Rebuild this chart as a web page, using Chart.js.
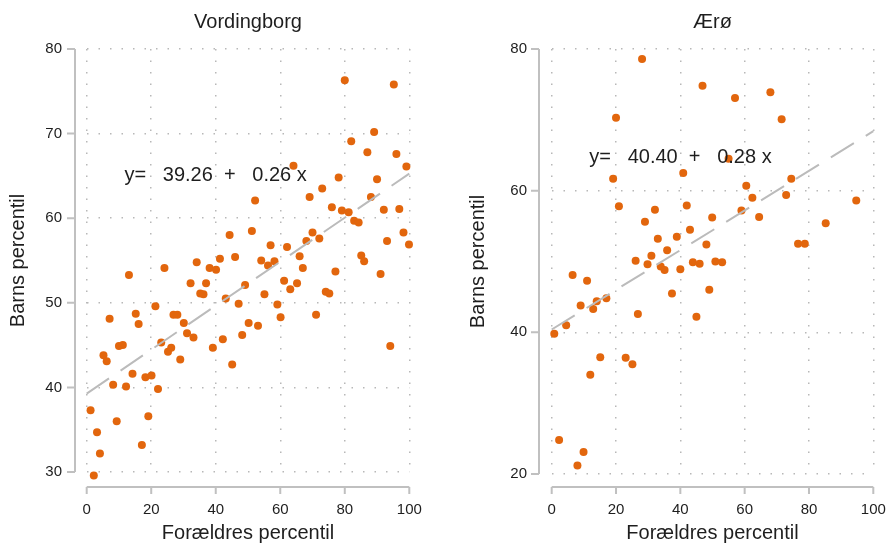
<!DOCTYPE html>
<html>
<head>
<meta charset="utf-8">
<script src="https://cdn.jsdelivr.net/npm/chart.js@4.4.1/dist/chart.umd.min.js"></script>
<style>
    body { margin: 0; background: #fff; }
    #painel { position: relative; width: 889px; height: 545px; }
    canvas { position: absolute; top: 0; }
</style>
</head>
<body>
<div id="painel">
    <canvas id="grafico1" width="444" height="545" style="left:0"></canvas>
    <canvas id="grafico2" width="445" height="545" style="left:444px"></canvas>
</div>
<script>
// dados
const titulos = ["Vordingborg", "Ærø"];
const tituloX = "Forældres percentil";
const tituloY = "Barns percentil";

const vordingborgX = [1.2, 2.2, 3.2, 4.1, 5.2, 6.2, 7.1, 8.2, 9.3, 10.0,
    11.2, 12.2, 13.1, 14.2, 15.2, 16.1, 17.1, 18.2, 19.1, 20.1,
    21.3, 22.1, 23.1, 24.1, 25.2, 26.2, 26.9, 28.1, 29.0, 30.1,
    31.1, 32.2, 33.1, 34.1, 35.2, 36.2, 37.0, 38.1, 39.1, 40.1,
    41.3, 42.2, 43.1, 44.3, 45.1, 46.0, 47.1, 48.2, 49.1, 50.2,
    51.2, 52.2, 53.1, 54.1, 55.1, 56.2, 57.0, 58.2, 59.1, 60.1,
    61.2, 62.1, 63.1, 64.1, 65.2, 66.0, 67.0, 68.1, 69.1, 70.0,
    71.1, 72.1, 73.0, 74.1, 75.2, 76.0, 77.1, 78.1, 79.1, 80.0,
    81.2, 82.0, 82.9, 84.3, 85.1, 86.0, 87.0, 88.1, 89.1, 90.0,
    91.1, 92.1, 93.1, 94.1, 95.2, 96.0, 96.9, 98.2, 99.1, 99.9];
const vordingborgY = [37.3, 29.6, 34.7, 32.2, 43.8, 43.1, 48.1, 40.3, 36.0, 44.9,
    45.0, 40.1, 53.3, 41.6, 48.7, 47.5, 33.2, 41.2, 36.6, 41.4,
    49.6, 39.8, 45.3, 54.1, 44.2, 44.7, 48.6, 48.6, 43.3, 47.6,
    46.4, 52.3, 45.9, 54.8, 51.1, 51.0, 52.3, 54.1, 44.7, 53.9,
    55.2, 45.7, 50.5, 58.0, 42.7, 55.4, 49.9, 46.2, 52.1, 47.6,
    58.5, 62.1, 47.3, 55.0, 51.0, 54.4, 56.8, 54.9, 49.8, 48.3,
    52.6, 56.6, 51.6, 66.2, 52.3, 55.5, 54.1, 57.3, 62.5, 58.3,
    48.6, 57.6, 63.5, 51.3, 51.1, 61.3, 53.7, 64.8, 60.9, 76.3,
    60.7, 69.1, 59.7, 59.5, 55.6, 54.9, 67.8, 62.5, 70.2, 64.6,
    53.4, 61.0, 57.3, 44.9, 75.8, 67.6, 61.1, 58.3, 66.1, 56.9];

const aeroX = [0.8, 2.3, 4.5, 6.5, 8.0, 9.0, 9.9, 11.0, 12.0, 12.9,
    14.0, 15.1, 17.0, 19.1, 20.0, 20.9, 23.0, 25.1, 26.1, 26.8,
    28.1, 29.0, 29.8, 31.0, 32.1, 33.0, 33.9, 35.1, 35.9, 37.4,
    38.9, 40.0, 40.9, 42.0, 43.0, 43.9, 45.0, 46.0, 46.9, 48.1,
    49.0, 49.9, 50.9, 53.0, 55.0, 57.0, 59.0, 60.5, 62.4, 64.5,
    68.0, 71.5, 72.9, 74.5, 76.6, 78.7, 85.2, 94.7];
const aeroY = [39.8, 24.8, 41.0, 48.1, 21.2, 43.8, 23.1, 47.3, 34.0, 43.3,
    44.4, 36.5, 44.8, 61.7, 70.3, 57.8, 36.4, 35.5, 50.1, 42.6,
    78.6, 55.6, 49.6, 50.8, 57.3, 53.2, 49.3, 48.8, 51.6, 45.5,
    53.5, 48.9, 62.5, 57.9, 54.5, 49.9, 42.2, 49.7, 74.8, 52.4,
    46.0, 56.2, 50.0, 49.9, 64.5, 73.1, 57.2, 60.7, 59.0, 56.3,
    73.9, 70.1, 59.4, 61.7, 52.5, 52.5, 55.4, 58.6];

// regressão mostrada no texto de cada painel
const interceptos = [39.26, 40.40];
const inclinacoes = [0.26, 0.28];

const xTicks = [0, 20, 40, 60, 80, 100];
const yTicksVordingborg = [30, 40, 50, 60, 70, 80];
const yTicksAero = [20, 40, 60, 80];

const fonte = "'Liberation Sans', Arial, sans-serif";
const corTexto = "#1e1e1e";
const corPonto = "#e2660d";
const corLinha = "#bbbbbb";
const corGrade = "#b8b8b8";
const corEixo = "#c0c0c0";

// eixos deslocados da área do gráfico, título e texto da equação
const eixosPlugin = {
    id: 'eixos',
    afterDraw(chart, args, opts) {
        const ctx = chart.ctx;
        const area = chart.chartArea;
        const x = chart.scales.x;
        const y = chart.scales.y;
        ctx.save();
        ctx.strokeStyle = corEixo;
        ctx.lineWidth = 2;
        ctx.beginPath();
        const ex = area.left - opts.yGap;
        ctx.moveTo(ex, y.getPixelForValue(y.min));
        ctx.lineTo(ex, y.getPixelForValue(y.max));
        y.ticks.forEach(t => {
            const py = y.getPixelForValue(t.value);
            ctx.moveTo(ex - 8, py);
            ctx.lineTo(ex, py);
        });
        const ey = area.bottom + opts.xGap;
        ctx.moveTo(x.getPixelForValue(x.min), ey);
        ctx.lineTo(x.getPixelForValue(x.max), ey);
        x.ticks.forEach(t => {
            const px = x.getPixelForValue(t.value);
            ctx.moveTo(px, ey);
            ctx.lineTo(px, ey + 7);
        });
        ctx.stroke();

        ctx.fillStyle = corTexto;
        ctx.font = "20px " + fonte;
        ctx.textBaseline = "middle";
        // título centrado sobre a área do gráfico
        ctx.textAlign = "center";
        ctx.fillText(opts.titulo, (area.left + area.right) / 2, 22.3);
        ctx.textAlign = "left";
        ctx.fillText(opts.texto, x.getPixelForValue(opts.textoX), y.getPixelForValue(opts.textoY));
        ctx.restore();
    }
};

function criarGrafico(canvasId, i, xs, ys, yTicks, cfg) {
    const pontos = xs.map((v, k) => ({ x: v, y: ys[k] }));
    const a = interceptos[i];
    const b = inclinacoes[i];
    const linha = [
        { x: xTicks[0], y: a + b * xTicks[0] },
        { x: xTicks[xTicks.length - 1], y: a + b * xTicks[xTicks.length - 1] }
    ];
    const texto = "y=   " + a.toFixed(2) + "  +   " + b.toFixed(2) + " x";

    const ctx = document.getElementById(canvasId).getContext('2d');
    return new Chart(ctx, {
        type: 'scatter',
        data: {
            datasets: [{
                data: pontos,
                backgroundColor: corPonto,
                borderWidth: 0,
                pointRadius: 4,
                pointHoverRadius: 4,
                clip: false,
                order: 2
            }, {
                type: 'line',
                data: linha,
                borderColor: corLinha,
                borderWidth: 2,
                borderDash: [27, 14],
                pointRadius: 0,
                fill: false,
                clip: false,
                order: 1
            }]
        },
        options: {
            responsive: false,
            animation: false,
            devicePixelRatio: 1,
            layout: {
                padding: { left: cfg.padEsq, right: cfg.padDir, top: 49, bottom: 0 }
            },
            scales: {
                x: {
                    type: 'linear',
                    min: xTicks[0],
                    max: xTicks[xTicks.length - 1],
                    afterBuildTicks: s => { s.ticks = xTicks.map(v => ({ value: v })); },
                    afterFit: s => {
                        s.height = cfg.xAltura;
                        // sem margem extra por causa do rótulo "100"
                        s.paddingLeft = 0;
                        s.paddingRight = 0;
                    },
                    grid: { color: corGrade, lineWidth: 1.5, drawTicks: false },
                    border: { display: false, dash: [1.5, 10] },
                    ticks: { padding: cfg.xPad, color: corTexto, font: { size: 15, family: fonte } },
                    title: {
                        display: true, text: tituloX, color: corTexto,
                        font: { size: 20, family: fonte }, padding: { top: 0, bottom: 0 }
                    }
                },
                y: {
                    type: 'linear',
                    min: yTicks[0],
                    max: yTicks[yTicks.length - 1],
                    afterBuildTicks: s => { s.ticks = yTicks.map(v => ({ value: v })); },
                    afterFit: s => { s.width = cfg.yLargura; },
                    grid: { color: corGrade, lineWidth: 1.5, drawTicks: false },
                    border: { display: false, dash: [1.5, 10] },
                    ticks: { padding: 24.7, color: corTexto, font: { size: 15, family: fonte } },
                    title: {
                        display: true, text: tituloY, color: corTexto,
                        font: { size: 20, family: fonte }, padding: { top: 6, bottom: 0 }
                    }
                }
            },
            plugins: {
                legend: { display: false },
                tooltip: { enabled: false },
                title: { display: false },
                eixos: {
                    yGap: cfg.yGap, xGap: cfg.xGap, titulo: titulos[i],
                    texto: texto, textoX: cfg.textoX, textoY: cfg.textoY
                }
            }
        },
        plugins: [eixosPlugin]
    });
}

criarGrafico('grafico1', 0, vordingborgX, vordingborgY, yTicksVordingborg, {
    padEsq: 0, padDir: 34.7, yLargura: 86.7, xAltura: 73, xPad: 29,
    yGap: 11.7, xGap: 15, textoX: 11.7, textoY: 65
});
criarGrafico('grafico2', 1, aeroX, aeroY, yTicksAero, {
    padEsq: 16, padDir: 15.7, yLargura: 91.7, xAltura: 71, xPad: 27,
    yGap: 12.7, xGap: 13, textoX: 11.7, textoY: 64.7
});
</script>
</body>
</html>
